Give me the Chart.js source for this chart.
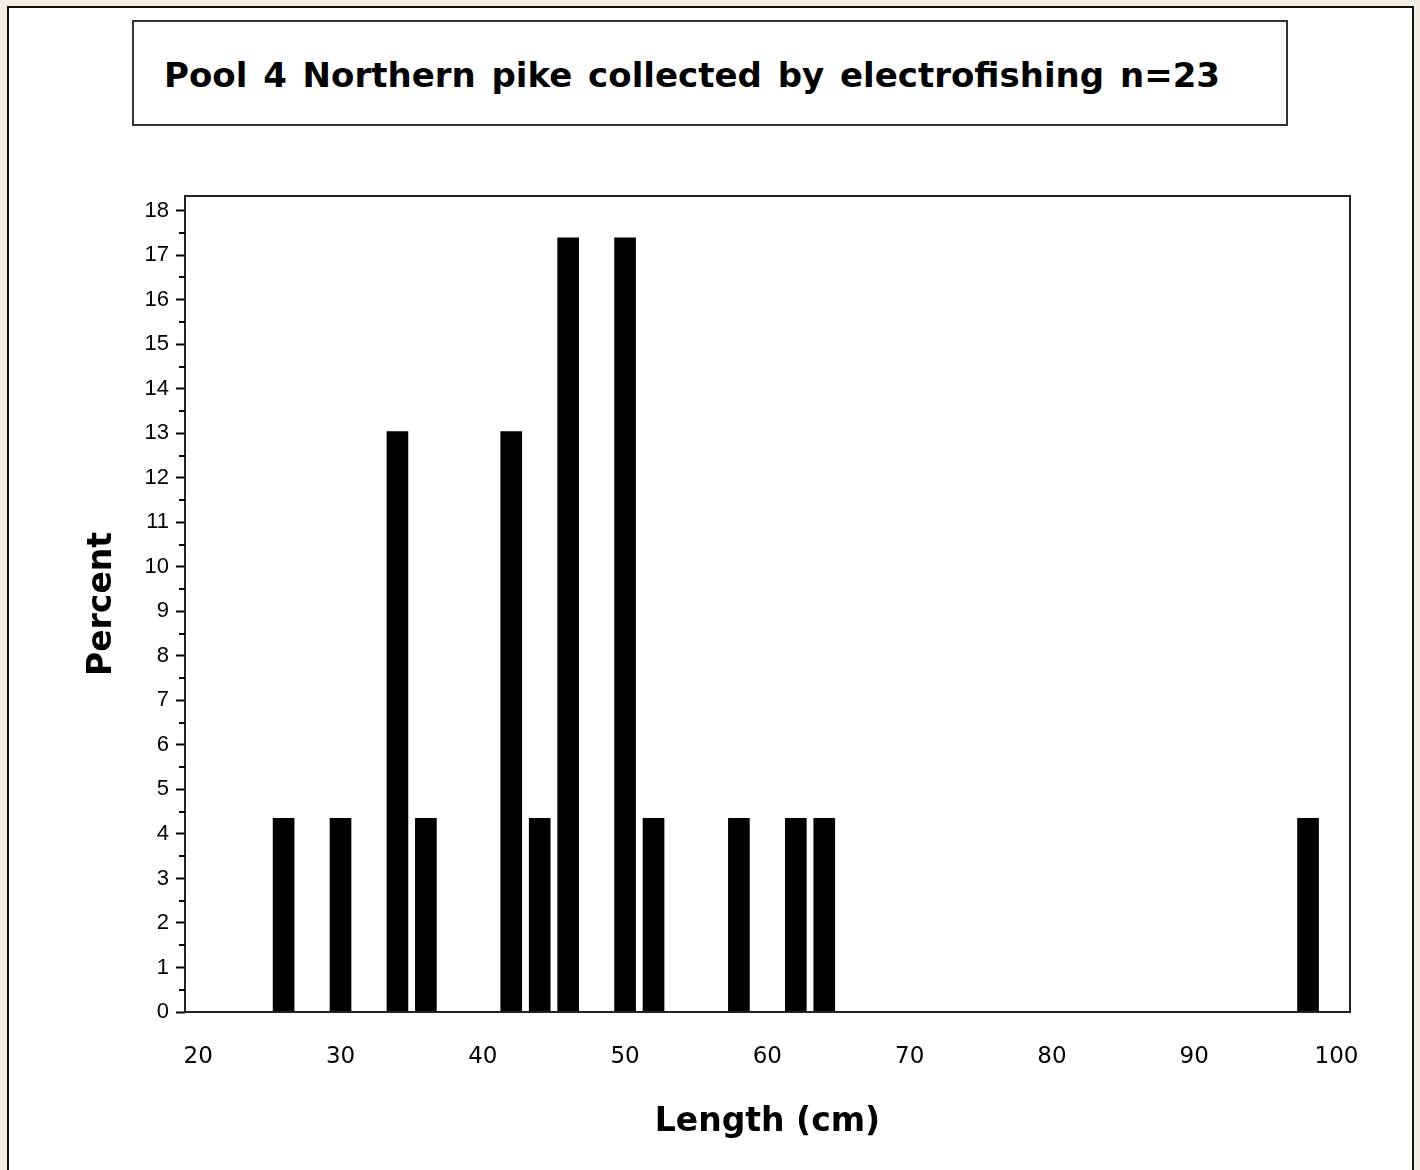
<!DOCTYPE html>
<html>
<head>
<meta charset="utf-8">
<title>Pool 4 Northern pike</title>
<script src="https://cdn.jsdelivr.net/npm/chart.js@4.4.1/dist/chart.umd.min.js"></script>
<style>
    html, body {
        margin: 0;
        padding: 0;
        width: 1420px;
        height: 1170px;
        overflow: hidden;
        background: #f3eee5;
    }
    #panel {
        position: absolute;
        left: 7px;
        top: 6px;
        width: 1407px;
        height: 1200px;
        box-sizing: border-box;
        border: 2px solid #111;
        background: #fff;
    }
    #titleBox {
        position: absolute;
        left: 132px;
        top: 20px;
        width: 1156px;
        height: 106px;
        box-sizing: border-box;
        border: 2px solid #333;
        background: #fff;
    }
    #titleBox span {
        position: absolute;
        left: 30px;
        top: 36px;
        font: bold 34px "DejaVu Sans", sans-serif;
        line-height: 34px;
        word-spacing: 4px;
        white-space: nowrap;
        color: #000;
    }
    #chartCanvas {
        position: absolute;
        left: 0;
        top: 0;
    }
</style>
</head>
<body>
<div id="panel"></div>
<div id="titleBox"><span>Pool 4 Northern pike collected by electrofishing n=23</span></div>
<canvas id="chartCanvas" width="1420" height="1170"></canvas>

<script>
// length bins (cm) and percent of fish in each bin
const lengthBins = [26, 30, 34, 36, 42, 44, 46, 50, 52, 58, 62, 64, 98];
const percentValues = [4.35, 4.35, 13.04, 4.35, 13.04, 4.35, 17.39, 17.39, 4.35, 4.35, 4.35, 4.35, 4.35];

const xTickValues = [20, 30, 40, 50, 60, 70, 80, 90, 100];
const yTickValues = [0, 1, 2, 3, 4, 5, 6, 7, 8, 9, 10, 11, 12, 13, 14, 15, 16, 17, 18];

// half-unit ticks between the labelled ones
const yMinorTicks = yTickValues.slice(0, -1).map(v => v + 0.5);

// draws the plot frame and the short minor ticks on the y axis
const frameAndMinorTicks = {
    id: 'frameAndMinorTicks',
    afterDatasetsDraw(chart) {
        const { ctx, chartArea } = chart;
        const yScale = chart.scales.y;
        ctx.save();
        ctx.strokeStyle = '#222';
        ctx.lineWidth = 2;
        ctx.strokeRect(chartArea.left, chartArea.top, chartArea.right - chartArea.left, chartArea.bottom - chartArea.top);

        ctx.strokeStyle = '#000';
        ctx.beginPath();
        yMinorTicks.forEach(v => {
            const py = Math.round(yScale.getPixelForValue(v));
            ctx.moveTo(chartArea.left - 6, py);
            ctx.lineTo(chartArea.left, py);
        });
        ctx.stroke();
        ctx.restore();
    }
};

document.addEventListener('DOMContentLoaded', () => {
    const ctx = document.getElementById('chartCanvas').getContext('2d');

    new Chart(ctx, {
        type: 'bar',
        data: {
            datasets: [{
                label: 'Percent',
                data: lengthBins.map((len, i) => ({ x: len, y: percentValues[i] })),
                backgroundColor: '#000',
                borderWidth: 0,
                barThickness: 21
            }]
        },
        options: {
            responsive: false,
            animation: false,
            devicePixelRatio: 1,
            layout: {
                padding: { left: 0, top: 196, right: 70, bottom: 0 }
            },
            plugins: {
                legend: { display: false },
                tooltip: { enabled: false },
                title: { display: false }
            },
            scales: {
                x: {
                    type: 'linear',
                    offset: false,
                    min: 19.07,
                    max: 100.95,
                    afterBuildTicks: scale => {
                        scale.ticks = xTickValues.map(v => ({ value: v }));
                    },
                    afterFit: scale => {
                        scale.height = 158;
                    },
                    grid: { display: false, drawTicks: false, offset: false },
                    border: { display: false },
                    ticks: {
                        padding: 31,
                        maxRotation: 0,
                        autoSkip: false,
                        color: '#000',
                        font: { family: '"DejaVu Sans", sans-serif', size: 23 }
                    },
                    title: {
                        display: true,
                        text: 'Length (cm)',
                        color: '#000',
                        font: { family: '"DejaVu Sans", sans-serif', size: 33, weight: 'bold', lineHeight: 1 },
                        padding: { top: 0, bottom: 31 }
                    }
                },
                y: {
                    min: 0,
                    max: 18.33,
                    afterBuildTicks: scale => {
                        scale.ticks = yTickValues.map(v => ({ value: v }));
                    },
                    afterFit: scale => {
                        scale.width = 185;
                    },
                    grid: {
                        drawOnChartArea: false,
                        drawTicks: true,
                        tickLength: 9,
                        tickColor: '#000',
                        tickWidth: 2
                    },
                    border: { display: false },
                    ticks: {
                        padding: 7,
                        autoSkip: false,
                        color: '#000',
                        font: { family: '"Liberation Sans", sans-serif', size: 22 }
                    },
                    title: {
                        display: true,
                        text: 'Percent',
                        color: '#000',
                        font: { family: '"DejaVu Sans", sans-serif', size: 33, weight: 'bold', lineHeight: 1 },
                        padding: { top: 86, bottom: 0 }
                    }
                }
            }
        },
        plugins: [frameAndMinorTicks]
    });
});
</script>
</body>
</html>
